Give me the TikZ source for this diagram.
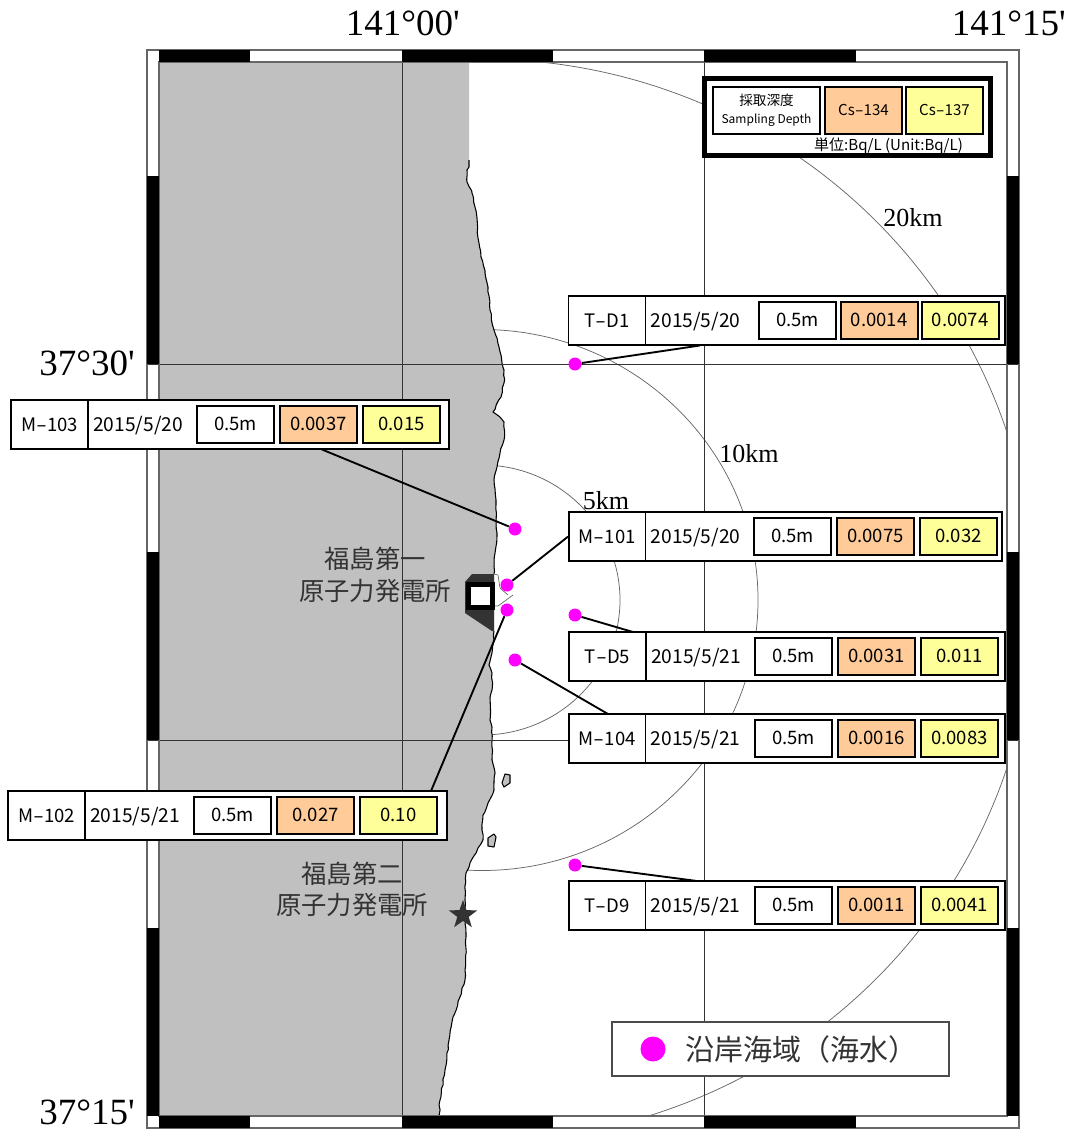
\documentclass[tikz,border=0pt]{standalone}
\usepackage{fontspec}
\usepackage{graphicx}
\usetikzlibrary{shapes.geometric,decorations.pathmorphing}
\setmainfont{Liberation Serif}
\newfontfamily\plainserif{Liberation Serif}
\newfontfamily\gothic{Noto Sans CJK JP}
\definecolor{landgray}{HTML}{C0C0C0}
\definecolor{csorange}{HTML}{FFCC99}
\definecolor{csyellow}{HTML}{FFFF99}
\definecolor{dotpink}{HTML}{FF00FF}
\definecolor{darkmark}{HTML}{333333}
\newcommand{\hy}{\scalebox{1.7}[1]{-}}
\tikzset{
  x=0.75pt,y=-0.75pt,
  cellbox/.style={draw=black,line width=1.5pt,inner sep=0pt,font=\gothic\fontsize{13.9}{16}\selectfont,text=black},
  whitecell/.style={cellbox,fill=white},
  orangecell/.style={cellbox,fill=csorange},
  yellowcell/.style={cellbox,fill=csyellow},
  rowframe/.style={draw=black,line width=1.3pt,fill=white,inner sep=0pt},
  leader/.style={draw=black,line width=1.4pt},
  sampledot/.style={circle,fill=dotpink,draw=none,minimum size=9.75pt,inner sep=0pt},
  gridline/.style={draw=black!80,line width=0.65pt},
  rangearc/.style={draw=black!60,line width=0.55pt},
  coordlabel/.style={font=\plainserif\fontsize{27.75}{30}\selectfont,text=black,inner sep=0pt},
  kmlabel/.style={font=\fontsize{19.5}{22}\selectfont,text=black,inner sep=0pt},
  sitelabel/.style={font=\gothic\fontsize{19}{24}\selectfont,text=darkmark,inner sep=0pt},
  tickbar/.style={fill=black,draw=none},
  coastline/.style={draw=black,line width=0.8pt,line join=round,decorate,decoration={random steps,segment length=3.5pt,amplitude=0.5pt}},
}
% \cell{name}{x1}{y1}{x2}{y2}{style}{text}
\newcommand{\cell}[7]{%
  \node[#6,minimum width={(#4-(#2))*0.75pt},minimum height={(#5-(#3))*0.75pt}] (#1)
    at ({(#2+#4)/2},{(#3+#5)/2}) {#7};}
\newcommand{\lowered}[1]{\raisebox{-0.8pt}{#1}}
% geometry: x left, x divider, x right, y top, x of depth box
\newcommand{\rowgeom}[5]{\def\rxa{#1}\def\rxd{#2}\def\rxb{#3}\def\ryt{#4}\def\rxc{#5}\def\ofa{83}\def\ofb{166}}
% \stationrow{id}{label}{date}{cs134}{cs137}
\newcommand{\stationrow}[5]{%
  \cell{#1row}{\rxa}{\ryt}{\rxb}{\ryt+49}{rowframe}{}
  \cell{#1id}{\rxa}{\ryt}{\rxd}{\ryt+49}{cellbox,draw=black,line width=1.3pt}{\lowered{#2}}
  \node[font=\gothic\fontsize{14.4}{16}\selectfont,anchor=west,inner sep=0pt] (#1date) at ({\rxd+5},{\ryt+25.5}) {#3};
  \cell{#1depth}{\rxc}{\ryt+6}{\rxc+77}{\ryt+42.5}{whitecell}{\lowered{0.5m}}
  \cell{#1a}{\rxc+\ofa}{\ryt+6}{\rxc+\ofa+77}{\ryt+42.5}{orangecell}{\lowered{#4}}
  \cell{#1b}{\rxc+\ofb}{\ryt+6}{\rxc+\ofb+77}{\ryt+42.5}{yellowcell}{\lowered{#5}}
}
\begin{document}
\begin{tikzpicture}
\useasboundingbox (0,0) rectangle (1070,1129);
\pgfmathsetseed{7}
\fill[white] (0,0) rectangle (1070,1129);
% range circles
\begin{scope}
  \clip (159,62) rectangle (1007,1116);
  \draw[rangearc] (482,600) ellipse [x radius=138,y radius=135];
  \draw[rangearc] (482,600) ellipse [x radius=276,y radius=270.5];
  \draw[rangearc] (482,600) ellipse [x radius=552,y radius=541];
\end{scope}
% land
\fill[landgray] (159,62) -- (469,62) -- (469,167) -- (467,170) -- (467,182) -- (472,193) -- (475,207) -- (477,218) -- (478,238) -- (481,257) -- (485,273) -- (488,287) -- (490,310) -- (494,330) -- (499,347) -- (502,363) -- (504,370) -- (504,383) -- (501,397) -- (493,412) -- (500,417) -- (504,422) -- (504,440) -- (500,453) -- (497,467) -- (494,480) -- (496,500) -- (497,533) -- (495,553) -- (494,574) -- (494,631) -- (494,640) -- (492,653) -- (489,665) -- (492,673) -- (492,690) -- (490,698) -- (490,720) -- (492,727) -- (492,760) -- (495,773) -- (494,790) -- (488,803) -- (483,815) -- (482,830) -- (483,840) -- (478,848) -- (470,863) -- (466,873) -- (465,900) -- (466,933) -- (465,980) -- (460,997) -- (453,1017) -- (449,1040) -- (445,1070) -- (440,1100) -- (439,1116) -- (159,1116) -- cycle;
% coast line
\draw[coastline] (469,160) -- (469,167) -- (467,170) -- (467,182) -- (472,193) -- (475,207) -- (477,218) -- (478,238) -- (481,257) -- (485,273) -- (488,287) -- (490,310) -- (494,330) -- (499,347) -- (502,363) -- (504,370) -- (504,383) -- (501,397) -- (493,412) -- (500,417) -- (504,422) -- (504,440) -- (500,453) -- (497,467) -- (494,480) -- (496,500) -- (497,533) -- (495,553) -- (494,574);
\draw[coastline] (494,631) -- (494,640) -- (492,653) -- (489,665) -- (492,673) -- (492,690) -- (490,698) -- (490,720) -- (492,727) -- (492,760) -- (495,773) -- (494,790) -- (488,803) -- (483,815) -- (482,830) -- (483,840) -- (478,848) -- (470,863) -- (466,873) -- (465,900) -- (466,933) -- (465,980) -- (460,997) -- (453,1017) -- (449,1040) -- (445,1070) -- (440,1100) -- (439,1116);
% islands
\filldraw[fill=landgray,draw=black,line width=0.8pt,line join=round] (502,783) -- (505,774) -- (510,775) -- (510,783) -- (504,787) -- cycle;
\filldraw[fill=landgray,draw=black,line width=0.8pt,line join=round] (488,838) -- (494,834) -- (496,837) -- (494,847) -- (488,846) -- cycle;
% grid
\draw[gridline] (402,50) -- (402,1128);
\draw[gridline] (704,50) -- (704,1128);
\draw[gridline] (147,364) -- (1019,364);
\draw[gridline] (147,740) -- (1019,740);
% frame
\draw[black!60,line width=0.9pt] (147,50) rectangle (1019,1128);
\draw[black!60,line width=0.9pt] (159,62) rectangle (1007,1116);
\foreach \xa/\xb in {159/250,402/553,704/856}{
  \fill[tickbar] (\xa,50) rectangle (\xb,62);
  \fill[tickbar] (\xa,1116) rectangle (\xb,1128);
}
\foreach \ya/\yb in {176/364,552/740,928/1116}{
  \fill[tickbar] (147,\ya) rectangle (159,\yb);
  \fill[tickbar] (1007,\ya) rectangle (1019,\yb);
}
% coordinates
\node[coordlabel,anchor=east] (lonA) at (460,23) {141°00'};
\node[coordlabel,anchor=east] (lonB) at (1066,23) {141°15'};
\node[coordlabel,anchor=east] (latA) at (135,363) {37°30'};
\node[coordlabel,anchor=east] (latB) at (135,1112) {37°15'};
% distances
\node[kmlabel] (kmT) at (913,218) {20km};
\node[kmlabel] (kmN) at (749,454) {10km};
\node[kmlabel] (kmF) at (606,501) {5km};
% plant
\fill[darkmark] (494,574) -- (472,574) -- (465,582) -- (465,613) -- (492,631) -- (494,631) -- cycle;
\draw[black!60,line width=0.5pt,line join=round] (494,574) -- (498,575) -- (500,588) -- (508,595);
\draw[black!60,line width=0.5pt,line join=round] (513,595) -- (498,606) -- (494,606);
\cell{plantone}{468}{584}{492}{607}{draw=black,fill=white,line width=3.75pt,inner sep=0pt}{}
\node[star,star points=5,star point ratio=2.5,fill=darkmark,draw=none,minimum size=22.5pt,inner sep=0pt] (planttwo) at (463,915) {};
% site labels
\node[sitelabel] (siteA) at (375,559) {福島第一};
\node[sitelabel] (siteB) at (375,591) {原子力発電所};
\node[sitelabel] (siteC) at (352,874) {福島第二};
\node[sitelabel] (siteD) at (352,905) {原子力発電所};
% legend top
\cell{keybox}{704.5}{78.5}{990.5}{155.5}{draw=black,fill=white,line width=3.75pt,inner sep=0pt}{}
\cell{keydepth}{713}{87}{820}{133.5}{whitecell,align=center,font=\gothic\fontsize{10.2}{14}\selectfont}{採取深度\\{\fontsize{9}{14}\selectfont Sampling Depth}}
\cell{keya}{825}{87}{902}{133.5}{orangecell,font=\gothic\fontsize{11.3}{14}\selectfont}{Cs\hy134}
\cell{keyb}{906}{87}{983}{133.5}{yellowcell,font=\gothic\fontsize{11.3}{14}\selectfont}{Cs\hy137}
\node[font=\gothic\fontsize{11.3}{13}\selectfont,inner sep=0pt] (keyunit) at (888.5,146) {単位:Bq/L (Unit:Bq/L)};
% stations
\rowgeom{568.5}{645.5}{1005}{296}{759}\def\ofa{81.5}\def\ofb{162.5}
\stationrow{TDa}{T\hy D1}{2015/5/20}{0.0014}{0.0074}
\rowgeom{11}{88}{449}{400}{197}
\stationrow{Mc}{M\hy 103}{2015/5/20}{0.0037}{0.015}
\rowgeom{569}{645.5}{1002}{512}{754}
\stationrow{Ma}{M\hy 101}{2015/5/20}{0.0075}{0.032}
\rowgeom{569}{646}{1005}{632}{755}
\stationrow{TDb}{T\hy D5}{2015/5/21}{0.0031}{0.011}
\rowgeom{569}{645.5}{1005}{714}{755}
\stationrow{Md}{M\hy 104}{2015/5/21}{0.0016}{0.0083}
\rowgeom{569}{645.5}{1005}{881}{755}
\stationrow{TDc}{T\hy D9}{2015/5/21}{0.0011}{0.0041}
\rowgeom{8}{85}{447}{791}{194}
\stationrow{Mb}{M\hy 102}{2015/5/21}{0.027}{0.10}
% samples
\node[sampledot] (sTDa) at (575,364) {};
\node[sampledot] (sMc) at (515,529) {};
\node[sampledot] (sMa) at (507,585) {};
\node[sampledot] (sMb) at (507,610) {};
\node[sampledot] (sTDb) at (575,615) {};
\node[sampledot] (sMd) at (515,660) {};
\node[sampledot] (sTDc) at (575,865) {};
% connectors
\coordinate (eTDa) at (700,345.5);
\coordinate (eMc) at (322,449.5);
\coordinate (eTDb) at (633,632);
\coordinate (eMd) at (608,714);
\coordinate (eMb) at (431,791);
\coordinate (eTDc) at (697,881);
\draw[leader] (sTDa) -- (eTDa);
\draw[leader] (sMc) -- (eMc);
\draw[leader] (sMa) -- (Marow.west);
\draw[leader] (sTDb) -- (eTDb);
\draw[leader] (sMd) -- (eMd);
\draw[leader] (sMb) -- (eMb);
\draw[leader] (sTDc) -- (eTDc);
% legend bottom
\cell{legend}{612}{1022}{949}{1076}{draw=black!70,fill=white,line width=0.9pt,inner sep=0pt}{}
\node[circle,fill=dotpink,draw=none,minimum size=18.75pt,inner sep=0pt] (legenddot) at (653,1049) {};
\node[font=\gothic\fontsize{21.75}{24}\selectfont,text=darkmark,inner sep=0pt,anchor=west] (legendtext) at (685,1049) {沿岸海域（海水）};
\end{tikzpicture}
\end{document}
